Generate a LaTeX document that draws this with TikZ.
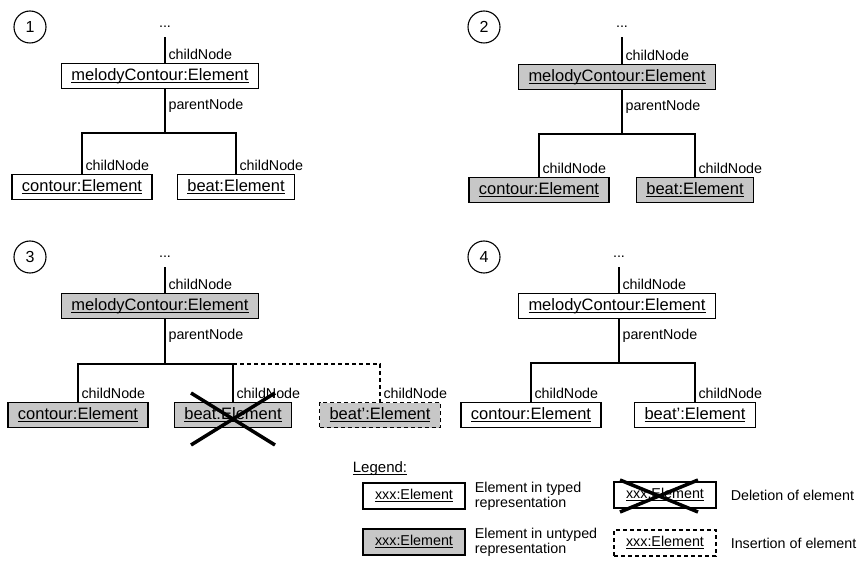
\documentclass[tikz,border=0pt]{standalone}
\usepackage{fontspec}
\setmainfont{Liberation Sans}
\usetikzlibrary{positioning}
\usetikzlibrary{calc}

% underlined object name
\newcommand*{\undl}[1]{\setbox0=\hbox{#1}\rlap{\rule[-2.4pt]{\wd0}{1.1pt}}\box0}

\tikzset{
  elem/.style={draw, line width=1.3pt, minimum height=25pt,
    inner xsep=10pt, inner ysep=0pt, font=\fontsize{16.5}{18}\selectfont},
  untyped/.style={fill=black!22},
  inserted/.style={dash pattern=on 4pt off 3pt},
  legbox/.style={minimum height=26pt, inner xsep=12pt, font=\fontsize{14.3}{16}\selectfont},
  link/.style={line width=1.1pt},
  kill/.style={line width=3.5pt},
  nr/.style={circle, draw, line width=1.1pt, minimum size=32pt, inner sep=0pt,
    font=\fontsize{16}{18}\selectfont},
  dots/.style={anchor=base, inner sep=0pt, font=\fontsize{14.3}{16}\selectfont},
  uplbl/.style={anchor=base west, inner sep=0pt, xshift=3pt, yshift=3pt,
    font=\fontsize{14.3}{16}\selectfont},
  dnlbl/.style={anchor=north west, inner sep=0pt, xshift=3pt, yshift=-9pt,
    font=\fontsize{14.3}{16}\selectfont},
  txt/.style={align=left, inner sep=0pt, font=\fontsize{14.3}{15}\selectfont}
}

\begin{document}
\begin{tikzpicture}[x=1pt, y=-1pt]
\useasboundingbox (0,0) rectangle (857,561);

% Step 1: typed tree
\node[nr] (one) at (30,27) {1};
\node[dots] (top1) at (165,28) {...};
\node[elem] (mc1) at (160,76) {\undl{melodyContour:Element}};
\node[elem] (co1) at (82,187) {\undl{contour:Element}};
\node[elem] (bt1) at (236,187) {\undl{beat:Element}};
\coordinate (bar1) at (165,133);

\draw[link] ([yshift=-9pt]top1.south) -- (top1 |- mc1.north) node[uplbl]{childNode};
\draw[link] (mc1.south -| top1) node[dnlbl]{parentNode} -- (bar1);
\draw[link] (co1.north) node[uplbl]{childNode} |- (bar1) -| (bt1.north) node[uplbl]{childNode};

% Step 2: untyped tree
\node[nr] (two) at (484,27) {2};
\node[dots] (top2) at (622,28) {...};
\node[elem, untyped] (mc2) at (617,77) {\undl{melodyContour:Element}};
\node[elem, untyped] (co2) at (539,190) {\undl{contour:Element}};
\node[elem, untyped] (bt2) at (695,190) {\undl{beat:Element}};
\coordinate (bar2) at (622,134);

\draw[link] ([yshift=-9pt]top2.south) -- (top2 |- mc2.north) node[uplbl]{childNode};
\draw[link] (mc2.south -| top2) node[dnlbl]{parentNode} -- (bar2);
\draw[link] (co2.north) node[uplbl]{childNode} |- (bar2) -| (bt2.north) node[uplbl]{childNode};

% Step 3: edit of the untyped tree
\node[nr] (three) at (30,257) {3};
\node[dots] (top3) at (165,258) {...};
\node[elem, untyped] (mc3) at (160,306) {\undl{melodyContour:Element}};
\node[elem, untyped] (co3) at (78,415) {\undl{contour:Element}};
\node[elem, untyped] (bt3) at (233,415) {\undl{beat:Element}};
\node[elem, untyped, inserted] (bn3) at (380,415) {\undl{beat':Element}};
\coordinate (bar3) at (165,364);

\draw[link] ([yshift=-9pt]top3.south) -- (top3 |- mc3.north) node[uplbl]{childNode};
\draw[link] (mc3.south -| top3) node[dnlbl]{parentNode} -- (bar3);
\draw[link] (co3.north) node[uplbl]{childNode} |- (bar3) -| (bt3.north) node[uplbl]{childNode};
\draw[link, inserted] (bt3.north |- bar3) -| (bn3.north) node[uplbl]{childNode};

\draw[kill] ([shift={(-42,-22)}]bt3.center) -- ([shift={(42,30)}]bt3.center);
\draw[kill] ([shift={(-42,30)}]bt3.center) -- ([shift={(42,-22)}]bt3.center);

% Step 4: typed tree again
\node[nr] (four) at (484,257) {4};
\node[dots] (top4) at (619,258) {...};
\node[elem] (mc4) at (617,306) {\undl{melodyContour:Element}};
\node[elem] (co4) at (531,415) {\undl{contour:Element}};
\node[elem] (bn4) at (695,415) {\undl{beat':Element}};
\coordinate (bar4) at (619,363);

\draw[link] ([yshift=-9pt]top4.south) -- (top4 |- mc4.north) node[uplbl]{childNode};
\draw[link] (mc4.south -| top4) node[dnlbl]{parentNode} -- (bar4);
\draw[link] (co4.north) node[uplbl]{childNode} |- (bar4) -| (bn4.north) node[uplbl]{childNode};

% Legend
\node[font=\fontsize{15}{18}\selectfont, inner sep=0pt] (legend) at (380,469) {\undl{Legend:}};
\node[elem, legbox] (lg1) at (414,496) {\undl{xxx:Element}};
\node[elem, legbox, untyped] (lg2) at (414,542) {\undl{xxx:Element}};
\node[elem, legbox] (lg3) at (665,495) {\undl{xxx:Element}};
\node[elem, legbox, inserted] (lg4) at (665,543) {\undl{xxx:Element}};

\draw[kill] ([shift={(-45,-15)}]lg3.center) -- ([shift={(33,17)}]lg3.center);
\draw[kill] ([shift={(-45,17)}]lg3.center) -- ([shift={(33,-15)}]lg3.center);

\node[txt, right=9pt of lg1] (lt1) {Element in typed\\representation};
\node[txt, right=9pt of lg2] (lt2) {Element in untyped\\representation};
\node[txt, right=14pt of lg3] (lt3) {Deletion of element};
\node[txt, right=14pt of lg4] (lt4) {Insertion of element};

\end{tikzpicture}
\end{document}
